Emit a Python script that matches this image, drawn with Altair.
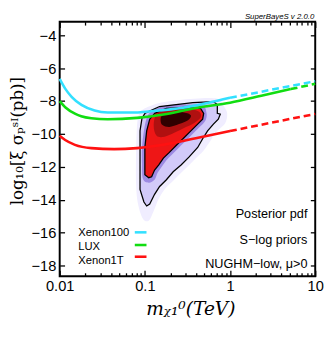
import altair as alt
import pandas as pd

# ---------------- data ----------------
# experimental limits (x: neutralino mass in TeV, y: log10 sigma)
xe100_x = [0.01, 0.0116, 0.0138, 0.018, 0.0257, 0.0366, 0.0672, 0.127, 0.28, 0.558, 1.0]
xe100_y = [-6.65, -7.24, -7.74, -8.23, -8.57, -8.69, -8.70, -8.60, -8.40, -8.10, -7.80]
xe100_dx = [1.0, 10.0]
xe100_dy = [-7.80, -6.79]

lux_x = [0.01, 0.0117, 0.0153, 0.0179, 0.0235, 0.0366, 0.0809, 0.165, 0.396, 1.0, 2.33, 5.16]
lux_y = [-8.0, -8.39, -8.78, -8.92, -9.04, -9.10, -9.02, -8.82, -8.42, -8.10, -7.68, -7.27]
lux_dx = [5.16, 10.0]
lux_dy = [-7.27, -6.95]

xe1t_x = [0.01, 0.0116, 0.0151, 0.0235, 0.0436, 0.0809, 0.164, 0.396, 1.0]
xe1t_y = [-10.11, -10.37, -10.66, -10.86, -10.92, -10.86, -10.66, -10.26, -9.82]
xe1t_dx = [1.0, 10.0]
xe1t_dy = [-9.82, -8.78]

# posterior pdf: outer / inner credible contours
outer_x = [0.1007, 0.1486, 0.366, 0.638, 0.709, 0.709, 0.768, 0.728, 0.638, 0.545, 0.477, 0.417, 0.329,
           0.266, 0.215, 0.179, 0.149, 0.130, 0.114, 0.105, 0.0975, 0.0877, 0.0877, 0.0877, 0.0877, 0.0925]
outer_y = [-8.73, -8.33, -8.09, -8.03, -8.21, -8.74, -8.80, -9.10, -9.40, -9.81, -10.29, -10.82, -11.41,
           -11.89, -12.30, -12.78, -13.19, -13.67, -14.26, -14.38, -14.14, -13.37, -12.19, -10.82, -9.81, -9.04]
inner_x = [0.130, 0.179, 0.304, 0.452, 0.490, 0.477, 0.417, 0.347, 0.288, 0.233, 0.194, 0.165, 0.145,
           0.130, 0.120, 0.111, 0.100, 0.100, 0.100, 0.105, 0.114]
inner_y = [-8.75, -8.45, -8.39, -8.45, -8.75, -9.10, -9.40, -9.81, -10.23, -10.70, -11.12, -11.47, -11.89,
           -12.19, -12.60, -12.66, -12.48, -11.77, -10.82, -9.81, -9.10]
# density shading levels
halo_x = [0.0948, 0.1567, 0.376, 0.710, 0.832, 0.925, 0.877, 0.710, 0.589, 0.490, 0.376, 0.288, 0.221,
          0.170, 0.145, 0.127, 0.111, 0.0948, 0.0832, 0.0789, 0.0789, 0.0809, 0.0853]
halo_y = [-8.51, -8.09, -7.86, -7.86, -8.27, -8.74, -9.34, -9.81, -10.41, -11.0, -11.59, -12.19, -12.78,
          -13.37, -13.96, -14.68, -15.27, -15.15, -14.26, -13.07, -11.0, -9.52, -8.80]
mid_x = [0.120, 0.179, 0.304, 0.477, 0.530, 0.516, 0.452, 0.376, 0.312, 0.252, 0.210, 0.179, 0.157,
         0.141, 0.130, 0.111, 0.0948, 0.0925, 0.0925, 0.0975, 0.105]
mid_y = [-8.63, -8.27, -8.21, -8.27, -8.74, -9.16, -9.52, -9.93, -10.35, -10.82, -11.24, -11.59, -12.01,
         -12.36, -12.78, -12.96, -12.72, -11.77, -10.82, -9.81, -9.04]
dark_x = [0.1374, 0.189, 0.304, 0.429, 0.452, 0.376, 0.288, 0.221, 0.170, 0.1374, 0.127]
dark_y = [-8.80, -8.51, -8.45, -8.63, -8.98, -9.34, -9.63, -9.93, -10.17, -10.11, -9.52]
core_x = [0.161, 0.210, 0.288, 0.347, 0.321, 0.252, 0.194, 0.161, 0.153]
core_y = [-8.86, -8.69, -8.69, -8.86, -9.16, -9.40, -9.58, -9.46, -9.16]

legend_names = ["Xenon100", "LUX", "Xenon1T"]
legend_colors = ["#33e0ff", "#11dd11", "#ff1111"]
notes = ["Posterior pdf", "S\u2212log priors", "NUGHM\u2212low, \u03bc>0"]

x_major = [0.01, 0.1, 1, 10]
x_minor = [0.02, 0.03, 0.04, 0.05, 0.06, 0.07, 0.08, 0.09,
           0.2, 0.3, 0.4, 0.5, 0.6, 0.7, 0.8, 0.9,
           2, 3, 4, 5, 6, 7, 8, 9]
y_major = [-18, -16, -14, -12, -10, -8, -6, -4]

# ---------------- chart ----------------
W, H = 262, 261
xs = alt.Scale(type="log", domain=[0.01, 10], nice=False)
ys = alt.Scale(domain=[-18.65, -3.17], nice=False, zero=False)
SANS = "Liberation Sans"
SERIF = "DejaVu Serif"


def xy(df, xaxis=None, yaxis=None):
    return dict(x=alt.X("x:Q", scale=xs, axis=xaxis), y=alt.Y("y:Q", scale=ys, axis=yaxis))


def poly(px, py, color, interp="cardinal-closed"):
    df = pd.DataFrame({"x": px, "y": py, "o": list(range(len(px)))})
    return alt.Chart(df).mark_line(filled=True, color=color, interpolate=interp).encode(
        order="o:Q", **xy(df))


def contour(px, py):
    df = pd.DataFrame({"x": px, "y": py, "o": list(range(len(px)))})
    return alt.Chart(df).mark_line(color="black", strokeWidth=1.3, interpolate="linear-closed").encode(
        order="o:Q", **xy(df))


def curve(px, py, color, dash=None):
    df = pd.DataFrame({"x": px, "y": py})
    kw = dict(color=color, strokeWidth=2.6, interpolate="monotone")
    if dash:
        kw["strokeDash"] = dash
    return alt.Chart(df).mark_line(**kw).encode(**xy(df))


layers = [
    poly(halo_x, halo_y, "#f0edff"),
    poly(outer_x, outer_y, "#d2caf9", "linear-closed"),
    poly(mid_x, mid_y, "#9d8ae2"),
    poly(inner_x, inner_y, "#ee1616", "linear-closed"),
    poly(dark_x, dark_y, "#b01010"),
    poly(core_x, core_y, "#300000"),
    contour(outer_x, outer_y),
    contour(inner_x, inner_y),
    curve(xe1t_x, xe1t_y, legend_colors[2]),
    curve(xe1t_dx, xe1t_dy, legend_colors[2], [7, 4]),
    curve(lux_x, lux_y, legend_colors[1]),
    curve(lux_dx, lux_dy, legend_colors[1], [7, 4]),
    curve(xe100_x, xe100_y, legend_colors[0]),
    curve(xe100_dx, xe100_dy, legend_colors[0], [7, 4]),
]

# legend (labels left, colour swatch right)
leg_text_y = [217, 231, 245]
leg_swatch_y = [216, 229, 241]
for name, col, ty, sy in zip(legend_names, legend_colors, leg_text_y, leg_swatch_y):
    layers.append(alt.Chart(pd.DataFrame({"t": [name]})).mark_text(
        align="left", baseline="middle", font=SANS, fontSize=11.5, color="black").encode(
        x=alt.value(19), y=alt.value(ty), text="t:N"))
    layers.append(alt.Chart(pd.DataFrame({"t": [name]})).mark_rule(color=col, strokeWidth=2.6).encode(
        x=alt.value(77), x2=alt.value(89), y=alt.value(sy)))

for note, ny in zip(notes, [197, 224, 249]):
    layers.append(alt.Chart(pd.DataFrame({"t": [note]})).mark_text(
        align="right", baseline="middle", font=SANS, fontSize=13, color="black").encode(
        x=alt.value(254), y=alt.value(ny), text="t:N"))

layers.append(alt.Chart(pd.DataFrame({"t": ["SuperBayeS v 2.0.0"]})).mark_text(
    align="right", baseline="middle", font=SANS, fontSize=8, fontStyle="italic", color="black").encode(
    x=alt.value(261), y=alt.value(-5), text="t:N"))

# axes
anchor = pd.DataFrame({"x": [1.0], "y": [-10.0]})


def axis_layer(xaxis=None, yaxis=None):
    return alt.Chart(anchor).mark_point(opacity=0, size=1).encode(**xy(anchor, xaxis, yaxis))


def tick_axis(orient, values, size):
    return alt.Axis(orient=orient, values=values, tickSize=size, offset=-size, labels=False,
                    domain=False, ticks=True, title=None, grid=False, tickColor="black", tickWidth=1.3)


x_label_axis = alt.Axis(orient="bottom", values=x_major, ticks=False, tickSize=0, domain=False, grid=False,
                        labelExpr="datum.value >= 1 ? format(datum.value, 'd') : format(datum.value, '.2~f')",
                        labelFlush=False, labelOverlap=False, labelBound=False,
                        labelFont=SANS, labelFontSize=15, labelPadding=3, labelColor="black",
                        title="m\u1d6a\u2081\u2070(TeV)", titleFont=SERIF, titleFontStyle="italic",
                        titleFontWeight="normal", titleFontSize=19, titleColor="black",
                        titleX=134, titleY=39, titleBaseline="alphabetic", titleAlign="center")
y_label_axis = alt.Axis(orient="left", values=y_major, ticks=False, tickSize=0, domain=False, grid=False,
                        format="d", labelFont=SANS, labelFontSize=15, labelPadding=4, labelColor="black",
                        labelFlush=False, labelOverlap=False,
                        title="log\u2081\u2080[\u03be \u03c3\u209a\u02e2\u1d35(pb)]", titleFont=SERIF,
                        titleFontWeight="normal", titleFontSize=17, titleColor="black",
                        titleX=-38, titleY=122, titleAngle=270, titleBaseline="alphabetic",
                        titleAlign="center")

layers += [
    axis_layer(xaxis=x_label_axis),
    axis_layer(yaxis=y_label_axis),
    axis_layer(xaxis=tick_axis("bottom", x_major, 6)),
    axis_layer(xaxis=tick_axis("bottom", x_minor, 3.5)),
    axis_layer(xaxis=tick_axis("top", x_major, 6)),
    axis_layer(xaxis=tick_axis("top", x_minor, 3.5)),
    axis_layer(yaxis=tick_axis("left", y_major, 5)),
    axis_layer(yaxis=tick_axis("right", y_major, 5)),
]

chart = alt.layer(*layers).resolve_axis(x="independent", y="independent").properties(
    width=W, height=H, autosize="none",
    padding={"left": 53, "top": 10, "right": 9, "bottom": 46},
).configure_view(stroke="black", strokeWidth=2).configure_axis(grid=False)

chart.save("out.html", embed_options={"renderer": "svg", "actions": False})
